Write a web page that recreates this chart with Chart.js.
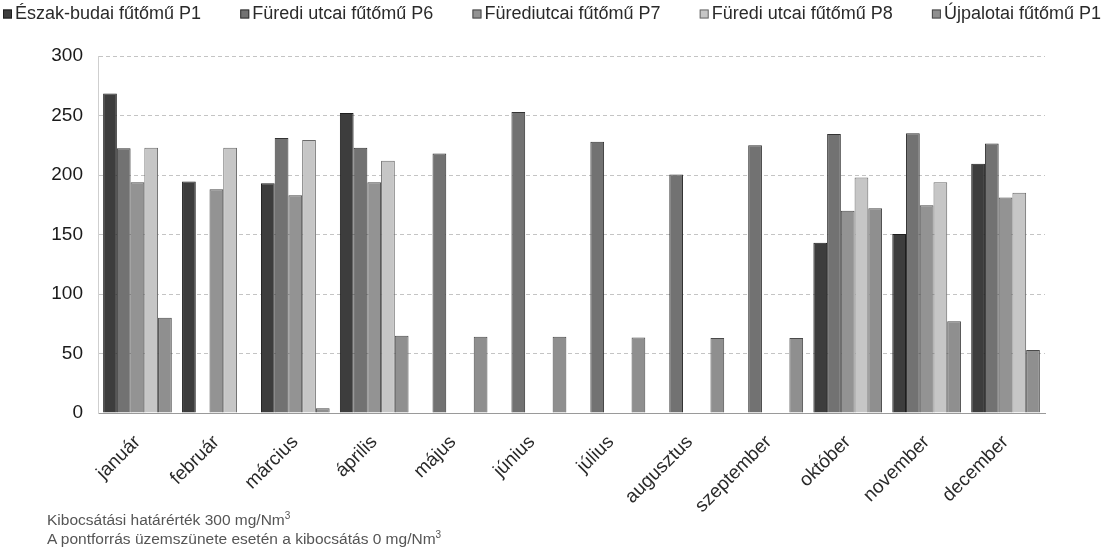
<!DOCTYPE html>
<html lang="hu">
<head>
<meta charset="utf-8">
<title>Fűtőművek kibocsátása</title>
<script src="https://cdn.jsdelivr.net/npm/chart.js@4/dist/chart.umd.min.js"></script>
<style>
  html, body { margin: 0; padding: 0; background: #fff; }
  #wrap { position: relative; width: 1102px; height: 557px; }
  #chart { position: absolute; left: 0; top: 0; }
  .note {
    position: absolute; left: 47px;
    font-family: "Liberation Sans", Arial, sans-serif;
    font-size: 15.5px; color: #555; white-space: nowrap; line-height: 18px;
  }
  .note sup { font-size: 10px; vertical-align: 6px; line-height: 0; }
</style>
</head>
<body>
<div id="wrap">
  <canvas id="chart" width="1102" height="557"></canvas>
  <div class="note" style="top:511px">Kibocsátási határérték 300 mg/Nm<sup>3</sup></div>
  <div class="note" style="top:530px">A pontforrás üzemszünete esetén a kibocsátás 0 mg/Nm<sup>3</sup></div>
</div>
<script>
// Hónapok
const months = ['január', 'február', 'március', 'április', 'május', 'június',
  'július', 'augusztus', 'szeptember', 'október', 'november', 'december'];

// Fűtőművek megnevezése
const seriesNames = ['Észak-budai fűtőmű P1', 'Füredi utcai fűtőmű P6',
  'Fürediutcai fűtőmű P7', 'Füredi utcai fűtőmű P8', 'Újpalotai fűtőmű P1'];

// Havi kibocsátás (mg/Nm3); null = nincs mérés
const eszakBudaiP1 = [268.5, 194.5, 193, 252, null, null, null, null, null, 143, 150.5, 209.5];
const furediP6 = [222.5, null, 231, 223, 218, 253, 228, 200.5, 225, 234.5, 235, 226.5];
const furediP7 = [194, 188, 183, 194, null, null, null, null, null, 170, 174.5, 181];
const furediP8 = [223, 223, 229.5, 212, null, null, null, null, null, 198, 194, 185];
const ujpalotaiP1 = [80, null, 4, 65, 64, 64, 63.5, 63, 63, 172, 77, 53];

// Tengely beosztás
const yTicks = [0, 50, 100, 150, 200, 250, 300];

const fills = ['#3d3d3d', '#727272', '#939393', '#c6c6c6', '#8f8f8f'];
const edges = ['#1e1e1e', '#333333', '#4a4a4a', '#6a6a6a', '#4a4a4a'];
const seriesData = [eszakBudaiP1, furediP6, furediP7, furediP8, ujpalotaiP1];

const FONT = '"Liberation Sans", Arial, sans-serif';

// Felső jelmagyarázat: a teljes szélességen elosztva
const topLegend = {
  id: 'topLegend',
  afterDraw(chart) {
    const ctx = chart.ctx;
    const sets = chart.data.datasets;
    ctx.save();
    ctx.font = '18px ' + FONT;
    ctx.textBaseline = 'middle';
    const box = 9, gapBox = 3;
    const widths = sets.map(d => box + gapBox + ctx.measureText(d.label).width);
    const total = widths.reduce((a, b) => a + b, 0);
    const left = 3, right = 1101;
    const gap = (right - left - total) / (sets.length - 1);
    let x = left;
    const y = 13;
    sets.forEach((d, i) => {
      ctx.fillStyle = d.backgroundColor;
      ctx.strokeStyle = d.borderColor;
      ctx.lineWidth = 1;
      ctx.fillRect(x, y - box / 2 + 1, box, box);
      ctx.strokeRect(x + 0.5, y - box / 2 + 1.5, box - 1, box - 1);
      ctx.fillStyle = '#2a2a2a';
      ctx.fillText(d.label, x + box + gapBox, y + 1);
      x += widths[i] + gap;
    });
    ctx.restore();
  }
};

new Chart(document.getElementById('chart'), {
  type: 'bar',
  data: {
    labels: months,
    datasets: seriesNames.map((name, i) => ({
      label: name,
      data: seriesData[i],
      backgroundColor: fills[i],
      borderColor: edges[i],
      borderWidth: 1,
      categoryPercentage: 0.87,
      barPercentage: 1.0
    }))
  },
  options: {
    responsive: false,
    animation: false,
    layout: { padding: { top: 56, right: 57, left: 0, bottom: 0 } },
    plugins: {
      legend: { display: false },
      tooltip: { enabled: false }
    },
    scales: {
      x: {
        grid: { display: false, drawTicks: false },
        border: { color: '#9a9a9a', width: 1 },
        ticks: {
          maxRotation: 45, minRotation: 45, autoSkip: false, padding: 18,
          color: '#2a2a2a', font: { family: FONT, size: 19 }
        },
        afterFit(scale) { scale.height = 144; }
      },
      y: {
        min: 0, max: 300,
        afterBuildTicks(scale) { scale.ticks = yTicks.map(v => ({ value: v })); },
        grid: { color: '#c4c4c4', lineWidth: 1, drawTicks: false },
        border: { color: '#cfcfcf', dash: [4, 3] },
        ticks: {
          padding: 15, color: '#1a1a1a',
          font: { family: FONT, size: 19 }
        },
        afterFit(scale) { scale.width = 98; }
      }
    }
  },
  plugins: [topLegend, {
    id: 'dashedGrid',
    beforeDraw(chart) {
      // szaggatott vízszintes rácsvonalak
      chart.options.scales.y.grid.borderDash = [4, 3];
    }
  }]
});
</script>
</body>
</html>
